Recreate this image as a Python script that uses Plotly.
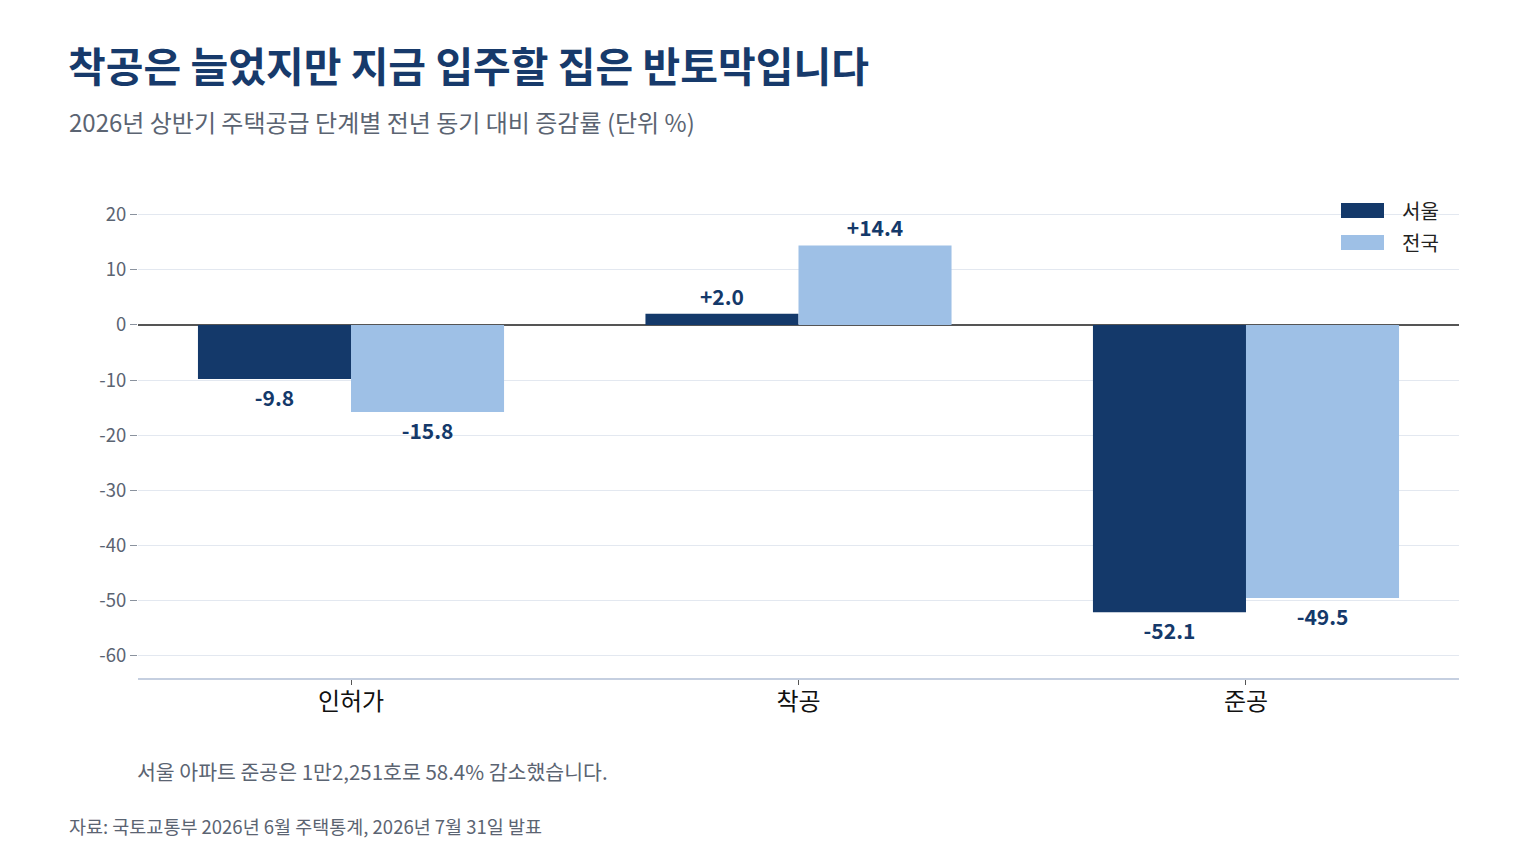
import plotly.graph_objects as go

stages = ["인허가", "착공", "준공"]
series_names = ["서울", "전국"]
seoul = [-9.8, 2.0, -52.1]
nation = [-15.8, 14.4, -49.5]
y_ticks = [20, 10, 0, -10, -20, -30, -40, -50, -60]

NAVY = "#14396a"
LIGHT = "#9ec0e6"
GRAY = "#5b6472"
FONT = "Noto Sans CJK KR"

# page body adds an 8px margin, so the figure is drawn 8px smaller and shifted
W, H = 1520, 848

fig = go.Figure()

colors = [NAVY, LIGHT]
for name, vals, color in zip(series_names, [seoul, nation], colors):
    fig.add_trace(go.Bar(
        x=stages, y=vals, name=name,
        marker=dict(color=color, line=dict(width=0)),
        text=[f"{v:+.1f}" for v in vals],
        texttemplate="%{text}",
        textposition="outside",
        textfont=dict(family=FONT, size=21, color=NAVY, weight="bold"),
        cliponaxis=False,
    ))

fig.update_layout(
    width=W, height=H,
    template="plotly_white",
    paper_bgcolor="white", plot_bgcolor="white",
    font=dict(family=FONT, color=GRAY),
    margin=dict(l=130, r=69, t=190, b=178, pad=0),
    barmode="group",
    bargap=0.316, bargroupgap=0,
    showlegend=False,
    title=dict(
        text="착공은 늘었지만 지금 입주할 집은 반토막입니다",
        x=60 / W, xanchor="left", xref="container",
        y=1 - 60 / H, yanchor="middle", yref="container",
        font=dict(family=FONT, size=41, color="#173a6b", weight="bold"),
    ),
)

fig.update_yaxes(
    range=[-64, 23],
    tickvals=y_ticks,
    ticktext=[str(t) for t in y_ticks],
    ticks="outside", ticklen=7, tickcolor="#8a929e",
    tickfont=dict(family=FONT, size=18.5, color=GRAY),
    gridcolor="#e3e8f0", gridwidth=1,
    zeroline=True, zerolinecolor="#555555", zerolinewidth=1.8,
    showline=False,
)
fig.update_xaxes(
    range=[-0.476, 2.476],
    ticks="outside", ticklen=5, tickcolor="#555555",
    ticklabelstandoff=-4,
    tickfont=dict(family=FONT, size=24, color="#111111"),
    showline=True, linecolor="#c5cfe0", linewidth=1.5,
    showgrid=False,
)

# manual legend (wide swatches)
for i, (name, color) in enumerate(zip(series_names, colors)):
    top = 203 + 32 * i
    fig.add_shape(
        type="rect", xref="paper", yref="paper",
        x0=(1341 - 138) / 1321, x1=(1384 - 138) / 1321,
        y0=(678 - top) / 480, y1=(678 - top - 15) / 480,
        fillcolor=color, line=dict(width=0),
    )
    fig.add_annotation(
        text=name, xref="paper", yref="paper",
        x=(1400 - 138) / 1321, y=(678 - top - 7.5) / 480,
        xanchor="left", yanchor="middle", showarrow=False,
        font=dict(family=FONT, size=20, color="#222222"),
    )

fig.add_annotation(
    text="2026년 상반기 주택공급 단계별 전년 동기 대비 증감률 (단위 %)",
    xref="paper", yref="paper", x=-71 / 1321, y=(678 - 122) / 480,
    xanchor="left", yanchor="middle", showarrow=False,
    font=dict(family=FONT, size=24, color=GRAY),
)
fig.add_annotation(
    text="서울 아파트 준공은 1만2,251호로 58.4% 감소했습니다.",
    xref="paper", yref="paper", x=-3 / 1321, y=-(771 - 678) / 480,
    xanchor="left", yanchor="middle", showarrow=False,
    font=dict(family=FONT, size=20.5, color=GRAY),
)
fig.add_annotation(
    text="자료: 국토교통부 2026년 6월 주택통계, 2026년 7월 31일 발표",
    xref="paper", yref="paper", x=-71 / 1321, y=-(826 - 678) / 480,
    xanchor="left", yanchor="middle", showarrow=False,
    font=dict(family=FONT, size=18.5, color=GRAY),
)

fig.write_html("out.html")
